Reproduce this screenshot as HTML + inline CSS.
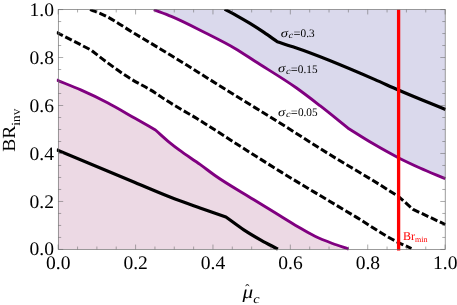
<!DOCTYPE html>
<html>
<head>
<meta charset="utf-8">
<style>
html,body{margin:0;padding:0;background:#fff;}
body{width:457px;height:305px;overflow:hidden;}
svg{display:block;will-change:transform;}
text{font-family:"Liberation Serif",serif;fill:#000;text-rendering:geometricPrecision;}
.tk{font-size:19.2px;}
.lb{font-size:11px;}
</style>
</head>
<body>
<svg width="457" height="305" viewBox="0 0 457 305">
<rect x="0" y="0" width="457" height="305" fill="#ffffff"/>
<clipPath id="cf"><rect x="58.3" y="9.55" width="386.9" height="239.9"/></clipPath>
<g clip-path="url(#cf)">
<path fill="#dad9ec" d="M153.80 9.70C159.63 11.93 165.54 14.00 171.30 16.40C182.88 21.21 194.00 27.13 205.20 32.80C215.22 37.87 225.35 42.79 235.00 48.50C241.81 52.53 248.34 57.03 255.00 61.30C268.75 70.11 282.89 78.36 296.20 87.80C304.29 93.54 312.15 99.63 320.00 105.70C329.76 113.24 339.27 121.10 348.90 128.80C356.60 133.57 364.20 138.51 372.00 143.10C380.64 148.18 389.37 153.15 398.30 157.70C405.43 161.33 412.70 164.71 420.00 168.00C428.35 171.76 436.87 175.13 445.30 178.70L445.5 9.5Z"/>
<path fill="#ecd9e4" d="M56.40 79.90C64.70 83.33 73.09 86.56 81.30 90.20C90.14 94.12 98.92 98.24 107.50 102.70C116.85 107.55 125.85 113.08 135.00 118.30C141.81 122.19 148.60 126.10 155.40 130.00C160.27 134.27 164.99 138.71 170.00 142.80C173.11 145.34 176.29 147.79 179.50 150.20C186.15 155.19 193.25 159.55 200.00 164.40C205.05 168.03 209.92 171.92 215.00 175.50C227.35 184.21 240.64 191.55 253.50 199.50C262.32 204.95 271.16 210.38 280.00 215.80C285.83 219.37 291.60 223.05 297.50 226.50C303.27 229.88 308.99 233.41 315.00 236.30C320.67 239.03 326.60 241.27 332.50 243.50C337.81 245.51 343.23 247.23 348.60 249.10L56 249.5Z"/>
</g>
<clipPath id="cp"><rect x="56.8" y="9" width="389.4" height="242"/></clipPath>
<g fill="none" stroke-linejoin="round" clip-path="url(#cp)">
<path stroke="#800080" stroke-width="2.9" d="M153.80 9.70C159.63 11.93 165.54 14.00 171.30 16.40C182.88 21.21 194.00 27.13 205.20 32.80C215.22 37.87 225.35 42.79 235.00 48.50C241.81 52.53 248.34 57.03 255.00 61.30C268.75 70.11 282.89 78.36 296.20 87.80C304.29 93.54 312.15 99.63 320.00 105.70C329.76 113.24 339.27 121.10 348.90 128.80C356.60 133.57 364.20 138.51 372.00 143.10C380.64 148.18 389.37 153.15 398.30 157.70C405.43 161.33 412.70 164.71 420.00 168.00C428.35 171.76 436.87 175.13 445.30 178.70"/>
<path stroke="#800080" stroke-width="2.9" d="M56.40 79.90C64.70 83.33 73.09 86.56 81.30 90.20C90.14 94.12 98.92 98.24 107.50 102.70C116.85 107.55 125.85 113.08 135.00 118.30C141.81 122.19 148.60 126.10 155.40 130.00C160.27 134.27 164.99 138.71 170.00 142.80C173.11 145.34 176.29 147.79 179.50 150.20C186.15 155.19 193.25 159.55 200.00 164.40C205.05 168.03 209.92 171.92 215.00 175.50C227.35 184.21 240.64 191.55 253.50 199.50C262.32 204.95 271.16 210.38 280.00 215.80C285.83 219.37 291.60 223.05 297.50 226.50C303.27 229.88 308.99 233.41 315.00 236.30C320.67 239.03 326.60 241.27 332.50 243.50C337.81 245.51 343.23 247.23 348.60 249.10"/>
<path stroke="#000" stroke-width="3.2" d="M56.40 149.70C82.60 160.63 108.78 171.61 135.00 182.50C146.66 187.34 158.22 192.45 170.00 197.00C179.92 200.83 189.98 204.32 200.00 207.90C208.62 210.98 217.27 213.97 225.90 217.00C231.87 221.27 237.67 225.79 243.80 229.80C249.49 233.52 255.37 236.96 261.30 240.30C266.76 243.37 272.37 246.17 277.90 249.10"/>
<path stroke="#000" stroke-width="3.2" d="M224.60 9.20C228.73 11.40 232.91 13.52 237.00 15.80C241.38 18.24 245.72 20.78 250.00 23.40C254.73 26.29 259.40 29.30 264.00 32.40C268.50 35.44 272.87 38.67 277.30 41.80C283.20 43.70 289.13 45.53 295.00 47.50C322.23 56.64 348.66 68.12 375.00 79.60C382.80 83.00 390.50 86.61 398.30 90.00C413.91 96.79 429.77 103.00 445.50 109.50"/>
<path stroke="#000" stroke-width="3.0" stroke-dasharray="7.2 2.8" d="M56.40 32.30L91.00 50.00C96.03 53.90 100.99 57.90 106.10 61.70C113.51 67.21 121.02 72.63 128.80 77.60C137.28 83.02 146.53 87.24 155.00 92.70C158.65 95.05 162.17 97.62 165.80 100.00C176.03 106.70 186.87 112.41 197.30 118.80C215.08 129.69 232.36 141.38 250.00 152.50C264.39 161.57 278.78 170.64 293.30 179.50C307.78 188.34 322.45 196.88 337.00 205.60C343.00 209.20 349.00 212.79 355.00 216.40C369.02 224.83 382.36 234.54 397.00 241.80C401.77 244.16 406.67 246.27 411.50 248.50"/>
<path stroke="#000" stroke-width="3.0" stroke-dasharray="7.2 2.8" d="M90.00 9.70C92.67 10.63 95.37 11.49 98.00 12.50C111.25 17.60 122.73 26.59 135.00 33.80C146.73 40.70 158.37 47.74 170.00 54.80C193.70 69.20 216.98 84.27 240.60 98.80C250.39 104.82 260.22 110.76 270.00 116.80C292.46 130.67 314.45 145.29 337.00 159.00C348.61 166.06 360.41 172.81 372.00 179.90C380.81 185.29 389.53 190.83 398.30 196.30L413.10 209.40L445.30 224.50"/>
</g>
<line x1="398.6" y1="9.7" x2="398.6" y2="250.5" stroke="#ff0000" stroke-width="3.3"/>
<g stroke="#666666" stroke-width="0.55" fill="none">
<path d="M58.20 249.45V244.55M58.20 9.55V14.45M58.30 249.45H63.20M445.20 249.45H440.30"/>
<path d="M77.55 249.45V246.55M77.55 9.55V12.45M58.30 237.45H61.20M445.20 237.45H442.30"/>
<path d="M96.89 249.45V246.55M96.89 9.55V12.45M58.30 225.46H61.20M445.20 225.46H442.30"/>
<path d="M116.23 249.45V246.55M116.23 9.55V12.45M58.30 213.46H61.20M445.20 213.46H442.30"/>
<path d="M135.58 249.45V244.55M135.58 9.55V14.45M58.30 201.47H63.20M445.20 201.47H440.30"/>
<path d="M154.93 249.45V246.55M154.93 9.55V12.45M58.30 189.47H61.20M445.20 189.47H442.30"/>
<path d="M174.27 249.45V246.55M174.27 9.55V12.45M58.30 177.48H61.20M445.20 177.48H442.30"/>
<path d="M193.62 249.45V246.55M193.62 9.55V12.45M58.30 165.48H61.20M445.20 165.48H442.30"/>
<path d="M212.96 249.45V244.55M212.96 9.55V14.45M58.30 153.49H63.20M445.20 153.49H440.30"/>
<path d="M232.31 249.45V246.55M232.31 9.55V12.45M58.30 141.50H61.20M445.20 141.50H442.30"/>
<path d="M251.65 249.45V246.55M251.65 9.55V12.45M58.30 129.50H61.20M445.20 129.50H442.30"/>
<path d="M271.00 249.45V246.55M271.00 9.55V12.45M58.30 117.50H61.20M445.20 117.50H442.30"/>
<path d="M290.34 249.45V244.55M290.34 9.55V14.45M58.30 105.51H63.20M445.20 105.51H440.30"/>
<path d="M309.69 249.45V246.55M309.69 9.55V12.45M58.30 93.51H61.20M445.20 93.51H442.30"/>
<path d="M329.03 249.45V246.55M329.03 9.55V12.45M58.30 81.52H61.20M445.20 81.52H442.30"/>
<path d="M348.38 249.45V246.55M348.38 9.55V12.45M58.30 69.52H61.20M445.20 69.52H442.30"/>
<path d="M367.72 249.45V244.55M367.72 9.55V14.45M58.30 57.53H63.20M445.20 57.53H440.30"/>
<path d="M387.06 249.45V246.55M387.06 9.55V12.45M58.30 45.53H61.20M445.20 45.53H442.30"/>
<path d="M406.41 249.45V246.55M406.41 9.55V12.45M58.30 33.54H61.20M445.20 33.54H442.30"/>
<path d="M425.75 249.45V246.55M425.75 9.55V12.45M58.30 21.54H61.20M445.20 21.54H442.30"/>
<path d="M445.10 249.45V244.55M445.10 9.55V14.45M58.30 9.55H63.20M445.20 9.55H440.30"/>
</g>
<rect x="58.3" y="9.55" width="386.9" height="239.89999999999998" fill="none" stroke="#666666" stroke-width="0.65"/>
<g class="tk" text-anchor="end">
<text transform="translate(54,16.0) scale(1.020,1)">1.0</text>
<text transform="translate(54,63.9) scale(1.020,1)">0.8</text>
<text transform="translate(54,111.8) scale(1.020,1)">0.6</text>
<text transform="translate(54,159.6) scale(1.020,1)">0.4</text>
<text transform="translate(54,207.5) scale(1.020,1)">0.2</text>
<text transform="translate(54,255.4) scale(1.020,1)">0.0</text>
</g>
<g class="tk" text-anchor="middle">
<text transform="translate(58.2,269.2) scale(1.020,1)">0.0</text>
<text transform="translate(135.6,269.2) scale(1.020,1)">0.2</text>
<text transform="translate(213.0,269.2) scale(1.020,1)">0.4</text>
<text transform="translate(290.5,269.2) scale(1.020,1)">0.6</text>
<text transform="translate(367.9,269.2) scale(1.020,1)">0.8</text>
<text transform="translate(445.3,269.2) scale(1.020,1)">1.0</text>
</g>
<text transform="translate(278.0,72.4) scale(1.22,1)" font-size="12px" font-style="italic">σ</text><text transform="translate(285.9,74.0) scale(1.15,1)" font-size="9px" font-style="italic">c</text><text transform="translate(290.7,72.7) scale(1.08,1)" font-size="11.5px">=</text><text transform="translate(297.8,72.7) scale(0.98,1)" font-size="11.5px">0.15</text>
<text transform="translate(280.7,36.8) scale(1.22,1)" font-size="12px" font-style="italic">σ</text><text transform="translate(288.6,38.4) scale(1.15,1)" font-size="9px" font-style="italic">c</text><text transform="translate(293.4,37.1) scale(1.08,1)" font-size="11.5px">=</text><text transform="translate(300.5,37.1) scale(0.98,1)" font-size="11.5px">0.3</text>
<text transform="translate(278.1,115.6) scale(1.22,1)" font-size="12px" font-style="italic">σ</text><text transform="translate(286.0,117.2) scale(1.15,1)" font-size="9px" font-style="italic">c</text><text transform="translate(290.8,115.9) scale(1.08,1)" font-size="11.5px">=</text><text transform="translate(297.9,115.9) scale(0.98,1)" font-size="11.5px">0.05</text>
<text x="403.1" y="240" font-size="12px" style="fill:#ff0000">Br<tspan font-size="8px" dy="1.7">min</tspan></text>
<text transform="translate(14.7,151.8) rotate(-90) scale(1.06,1)" font-size="18.5px">BR<tspan font-size="12.5px" dy="5">inv</tspan></text>
<text transform="translate(242.5,298) scale(1.15,1)" font-size="18.5px" font-style="italic">μ<tspan font-size="12.5px" dy="5">c</tspan></text>
<text x="245" y="294" font-size="14px">ˆ</text>
</svg>
</body>
</html>
